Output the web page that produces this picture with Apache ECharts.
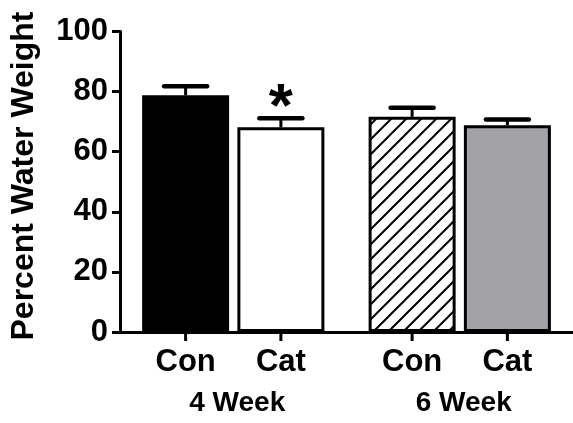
<!DOCTYPE html>
<html>
<head>
<meta charset="utf-8">
<script src="https://cdn.jsdelivr.net/npm/echarts@6/dist/echarts.min.js"></script>
<style>
  html, body { margin: 0; padding: 0; background: #fff; }
  #chart { width: 573px; height: 423px; }
</style>
</head>
<body>
<div id="chart"></div>
<script>
// ---- data ----
const weeks = ['4 Week', '6 Week'];
const groupNames = ['Con', 'Cat'];
const conMeans = [78.8, 71.6];
const conErrors = [3.0, 3.0];
const catMeans = [68.1, 68.8];
const catErrors = [3.0, 1.9];
const catMarks = ['*', ''];
const yMin = 0, yMax = 100, yStep = 20;
const yTitle = 'Percent Water Weight';

// ---- styling ----
const FONT = '"Liberation Sans", Arial, Helvetica, sans-serif';
const BAR_W = 87;
const BAR_GAP = 0.095;

function hatchTile() {
  const s = 15;
  const c = document.createElement('canvas');
  c.width = c.height = s;
  const g = c.getContext('2d');
  g.fillStyle = '#fff';
  g.fillRect(0, 0, s, s);
  g.strokeStyle = '#000';
  g.lineWidth = 2;
  g.beginPath();
  g.moveTo(-1, s + 1); g.lineTo(s + 1, -1);
  g.moveTo(-1, 1); g.lineTo(1, -1);
  g.moveTo(s - 1, s + 1); g.lineTo(s + 1, s - 1);
  g.stroke();
  return c;
}

const conFills = ['#000', { image: hatchTile(), repeat: 'repeat' }];
const catFills = ['#fff', '#a3a2a7'];

function barSeries(name, means, fills) {
  return {
    name: name,
    type: 'bar',
    barWidth: BAR_W,
    barGap: (BAR_GAP * 100) + '%',
    z: 3,
    data: means.map((v, i) => ({
      value: v,
      itemStyle: { color: fills[i], borderColor: '#000', borderWidth: 3 }
    })),
    label: {
      show: true,
      position: 'bottom',
      distance: 15,
      formatter: name,
      fontSize: 31, fontWeight: 'bold', fontFamily: FONT, color: '#000'
    },
    emphasis: { disabled: true }
  };
}

// error bar (upper only), category tick under the bar, optional significance mark
function errorSeries(means, errors, side, marks) {
  return {
    type: 'custom',
    clip: false,
    z: 4,
    silent: true,
    data: means.map((m, i) => [i, m, errors[i]]),
    renderItem: function (params, api) {
      const i = api.value(0);
      const mean = api.value(1);
      const err = api.value(2);
      const mark = marks ? marks[params.dataIndex] : '';
      const offset = side * BAR_W * (1 + BAR_GAP) / 2;
      const top = api.coord([i, mean]);
      const cap = api.coord([i, mean + err]);
      const base = api.coord([i, yMin]);
      const x = top[0] + offset;
      const children = [
        { type: 'line', shape: { x1: x, y1: top[1], x2: x, y2: cap[1] },
          style: { stroke: '#000', lineWidth: 3 } },
        { type: 'line', shape: { x1: x - 21.5, y1: cap[1], x2: x + 21.5, y2: cap[1] },
          style: { stroke: '#000', lineWidth: 4.5, lineCap: 'round' } },
        { type: 'rect', shape: { x: x - 1.5, y: base[1], width: 3, height: 9 },
          style: { fill: '#000' } }
      ];
      if (mark) {
        children.push({ type: 'text', x: x, y: cap[1] - 9,
          style: { text: mark, fill: '#000', font: 'bold 62px ' + FONT,
                   textAlign: 'center', textVerticalAlign: 'middle' } });
      }
      return { type: 'group', children: children };
    }
  };
}

const chart = echarts.init(document.getElementById('chart'), null, { renderer: 'canvas' });
chart.setOption({
  animation: false,
  backgroundColor: '#fff',
  grid: { left: 120, right: 0, top: 31.5, bottom: 91 },
  xAxis: {
    type: 'category',
    data: weeks,
    axisLine: { lineStyle: { color: '#000', width: 3 } },
    axisTick: { show: false },
    axisLabel: {
      color: '#000', fontSize: 28, fontWeight: 'bold', fontFamily: FONT,
      margin: 57, padding: [0, 0, 0, 8]
    }
  },
  yAxis: {
    type: 'value',
    min: yMin, max: yMax, interval: yStep,
    axisLine: { show: true, lineStyle: { color: '#000', width: 3 } },
    axisTick: { show: true, length: 8, lineStyle: { color: '#000', width: 3 } },
    axisLabel: { color: '#000', fontSize: 31, fontWeight: 'bold', fontFamily: FONT, margin: 12 },
    splitLine: { show: false }
  },
  graphic: [{
    type: 'text',
    x: 24.5, y: 176,
    rotation: Math.PI / 2,
    style: { text: yTitle, fill: '#000', font: 'bold 32px ' + FONT,
             textAlign: 'center', textVerticalAlign: 'middle' }
  }],
  series: [
    barSeries(groupNames[0], conMeans, conFills),
    barSeries(groupNames[1], catMeans, catFills),
    errorSeries(conMeans, conErrors, -1, null),
    errorSeries(catMeans, catErrors, 1, catMarks)
  ]
});
</script>
</body>
</html>
